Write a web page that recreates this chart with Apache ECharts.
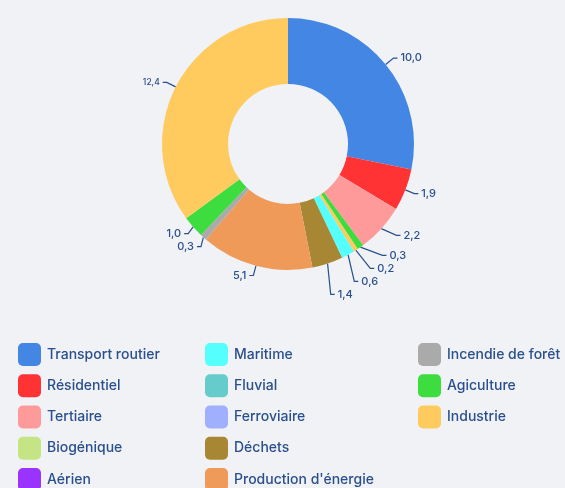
<!DOCTYPE html>
<html><head><meta charset="utf-8">
<script src="https://cdn.jsdelivr.net/npm/echarts@6/dist/echarts.min.js"></script>
<style>html,body{margin:0;padding:0;background:#f0f2f6}#c{width:565px;height:488px}</style>
</head><body><div id="c"></div>
<script>
// Slices in drawing order (clockwise from top)
const sliceNames = ["Transport routier","Résidentiel","Tertiaire","Agiculture (bis)","Industrie (bis)","Maritime","Déchets","Production d'énergie","Incendie de forêt","Agiculture","Industrie"];
const sliceValues = [10.0, 1.9, 2.2, 0.3, 0.2, 0.6, 1.4, 5.1, 0.3, 1.0, 12.4];
// Legend entries (columns)
const legendCol1 = ["Transport routier","Résidentiel","Tertiaire","Biogénique","Aérien"];
const legendCol2 = ["Maritime","Fluvial","Ferroviaire","Déchets","Production d'énergie"];
const legendCol3 = ["Incendie de forêt","Agiculture","Industrie"];
const colors = {
  "Transport routier":"#4486e3","Résidentiel":"#ff3334","Tertiaire":"#ff9a9a","Biogénique":"#c5e485",
  "Aérien":"#9a33fe","Maritime":"#55fffe","Fluvial":"#66cccb","Ferroviaire":"#a1b0fe",
  "Déchets":"#a88734","Production d'énergie":"#f09a5a","Incendie de forêt":"#aaaaaa",
  "Agiculture":"#3ddc3f","Industrie":"#ffca5e","Agiculture (bis)":"#3ddc3f","Industrie (bis)":"#ffca5e"
};
const txt = "#2a4f8d";
const font = "Inter";
const fmt = v => v.toFixed(1).replace('.', ',');

const data = sliceNames.map((n,i)=>({name:n,value:sliceValues[i],itemStyle:{color:colors[n]}}));
// zero entries for legend-only categories
["Biogénique","Aérien","Fluvial","Ferroviaire"].forEach(n=>data.push({name:n,value:0,itemStyle:{color:colors[n]},label:{show:false},labelLine:{show:false}}));
data[10].label = {fontSize: 8.5};

const legends = [];
[[legendCol1,18],[legendCol2,205],[legendCol3,418]].forEach(([col,left])=>{
  col.forEach((n,i)=>legends.push({data:[{name:n,itemStyle:{color:colors[n]}}],orient:'vertical',left:left,top:343+i*31.25,padding:0,
    icon:'path://M5,0 H18 A5,5 0 0 1 23,5 V18 A5,5 0 0 1 18,23 H5 A5,5 0 0 1 0,18 V5 A5,5 0 0 1 5,0 Z',
    itemWidth:23,itemHeight:23,selectedMode:false,
    textStyle:{color:txt,fontSize:14,fontWeight:500,fontFamily:font,padding:[0,0,0,1]}}));
});
const chart = echarts.init(document.getElementById('c'),null,{renderer:'canvas'});
chart.setOption({
  backgroundColor:'#f0f2f6',
  animation:false,
  legend:legends,
  series:[{type:'pie',center:[288,144],radius:[60,126],startAngle:90,clockwise:true,
    avoidLabelOverlap:true,
    data:data,
    label:{formatter:p=>fmt(p.value),color:txt,fontSize:11,fontWeight:500,fontFamily:font,distanceToLabelLine:3},
    labelLine:{length:10,length2:4,lineStyle:{color:txt,width:1.2}}
  }]
});
</script></body></html>
